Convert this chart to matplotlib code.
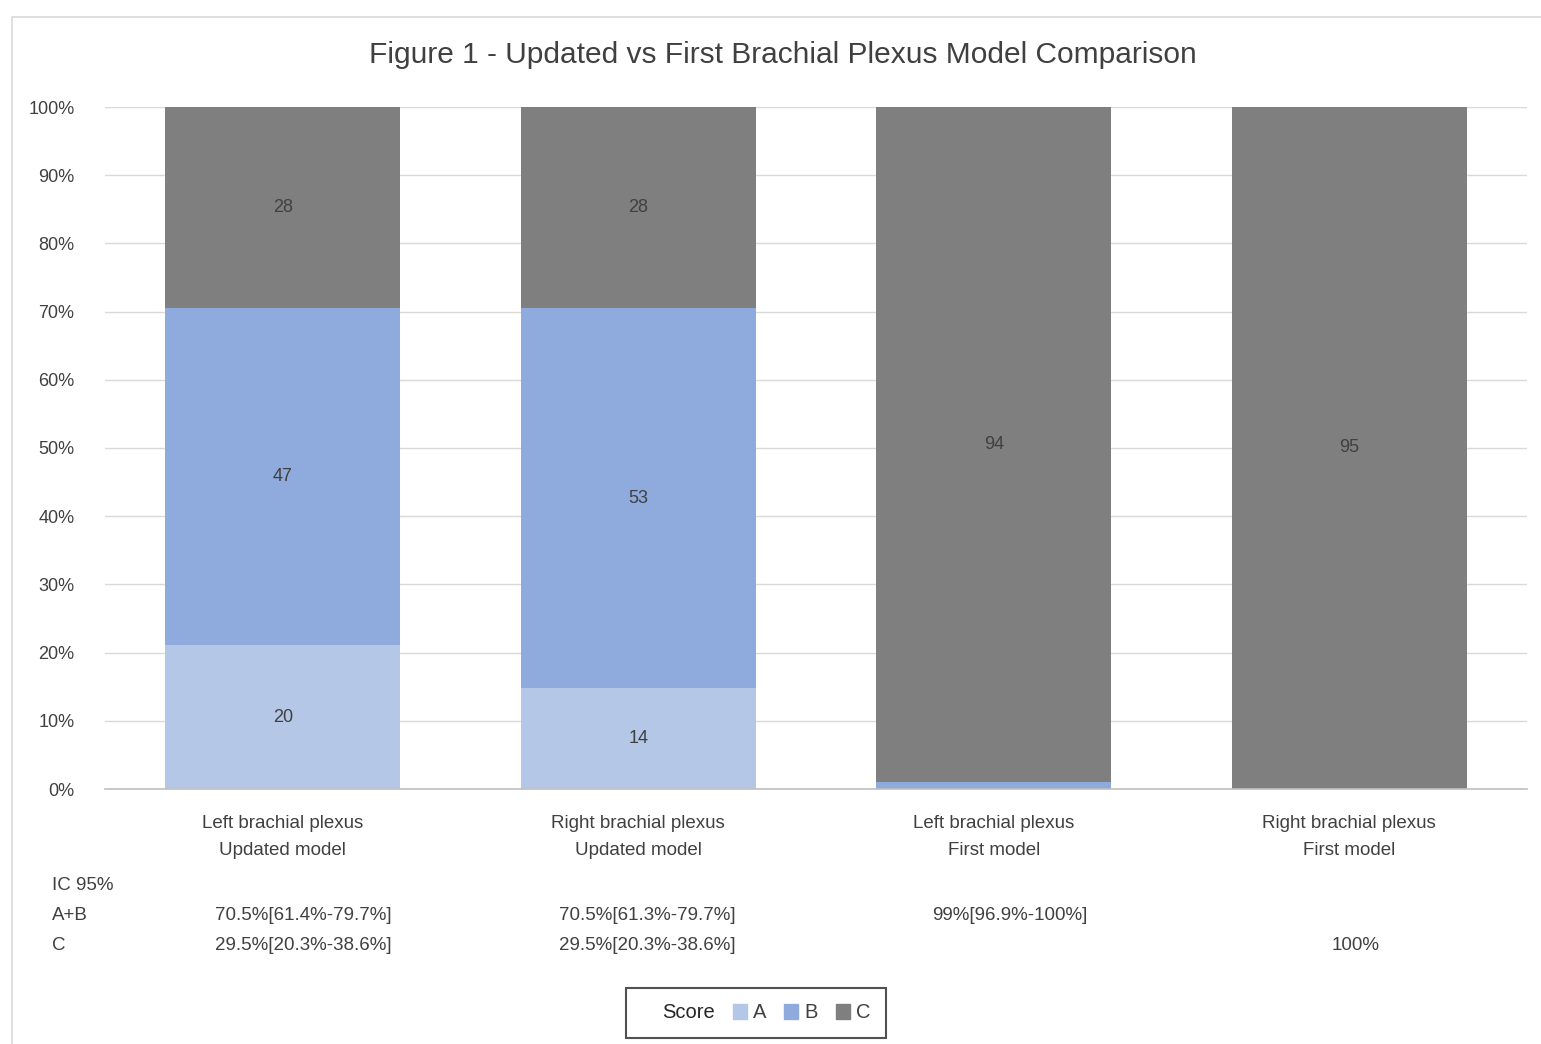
import numpy as np
import matplotlib.pyplot as plt
from matplotlib.patches import Rectangle, Patch
from matplotlib.ticker import PercentFormatter

plt.rcParams['font.family'] = ['Liberation Sans Narrow', 'Liberation Sans', 'DejaVu Sans']

categories = ["Left brachial plexus\nUpdated model", "Right brachial plexus\nUpdated model",
              "Left brachial plexus\nFirst model", "Right brachial plexus\nFirst model"]
score_a = np.array([20, 14, 0, 0])
score_b = np.array([47, 53, 1, 0])
score_c = np.array([28, 28, 94, 95])
ic_ab = ["70.5%[61.4%-79.7%]", "70.5%[61.3%-79.7%]", "99%[96.9%-100%]", ""]
ic_c = ["29.5%[20.3%-38.6%]", "29.5%[20.3%-38.6%]", "", "100%"]

colors = {"A": "#B4C7E7", "B": "#8FAADC", "C": "#7F7F7F"}
txt = "#404040"

W, H = 1541, 1044
fig = plt.figure(figsize=(W / 100, H / 100), dpi=100)
fig.patches.append(Rectangle((12 / W, -0.1), 1.2, 1.1 - 17 / H, transform=fig.transFigure,
                             fill=False, edgecolor="#D9D9D9", lw=1.2))
ax = fig.add_axes([105 / W, 1 - 789 / H, (1527 - 105) / W, (789 - 107) / H])

total = score_a + score_b + score_c
pa, pb, pc = score_a / total, score_b / total, score_c / total
x = np.arange(len(categories))
w = 0.66
bottom = np.zeros(len(x))
for name, vals, pct in [("A", score_a, pa), ("B", score_b, pb), ("C", score_c, pc)]:
    ax.bar(x, pct, w, bottom=bottom, color=colors[name], label=name, zorder=2)
    for xi, v, p, b in zip(x, vals, pct, bottom):
        if v > 1:
            ax.text(xi, b + p / 2, str(v), ha="center", va="center", fontsize=13, color=txt)
    bottom = bottom + pct

ax.set_xlim(-0.5, 3.5)
ax.set_ylim(0, 1)
ax.set_yticks(np.arange(0, 1.01, 0.1))
ax.yaxis.set_major_formatter(PercentFormatter(1, decimals=0))
ax.grid(axis="y", color="#D9D9D9", lw=1, zorder=0)
for s in ["top", "right", "left"]:
    ax.spines[s].set_visible(False)
ax.spines["bottom"].set_color("#BFBFBF")
ax.spines["bottom"].set_linewidth(1.2)
ax.set_xticks(x)
ax.set_xticklabels(categories, fontsize=13.5, color=txt, linespacing=1.75)
ax.tick_params(axis="x", length=0, pad=19)
ax.tick_params(axis="y", length=0, labelsize=13, labelcolor=txt, pad=22)

fig.text(783 / W, 1 - 55 / H, "Figure 1 - Updated vs First Brachial Plexus Model Comparison",
         ha="center", va="center", fontsize=21.5, color=txt)

# IC 95% table under the chart
fig.text(52 / W, 1 - 885 / H, "IC 95%", va="center", fontsize=13.5, color=txt)
fig.text(52 / W, 1 - 915 / H, "A+B", va="center", fontsize=13.5, color=txt)
fig.text(52 / W, 1 - 945 / H, "C", va="center", fontsize=13.5, color=txt)
col_x = [303, 647, 1010, 1356]
for cx, ab, c in zip(col_x, ic_ab, ic_c):
    fig.text(cx / W, 1 - 915 / H, ab, ha="center", va="center", fontsize=13.5, color=txt)
    fig.text(cx / W, 1 - 945 / H, c, ha="center", va="center", fontsize=13.5, color=txt)

handles = [Patch(visible=False, label="Score")] + [Patch(color=colors[k], label=k) for k in "ABC"]
leg = fig.legend(handles=handles, ncol=4, loc="center", bbox_to_anchor=(756 / W, 1 - 1013 / H),
                 fontsize=14.5, frameon=True, fancybox=False, edgecolor="#262626",
                 handlelength=0.7, handleheight=0.7, handletextpad=0.3, columnspacing=0.9,
                 borderpad=0.75)
leg.get_frame().set_linewidth(1.5)
texts = leg.get_texts()
texts[0].set_color("#262626")
for t in texts[1:]:
    t.set_color(txt)

fig.savefig("out.png", dpi=100, facecolor="white")
